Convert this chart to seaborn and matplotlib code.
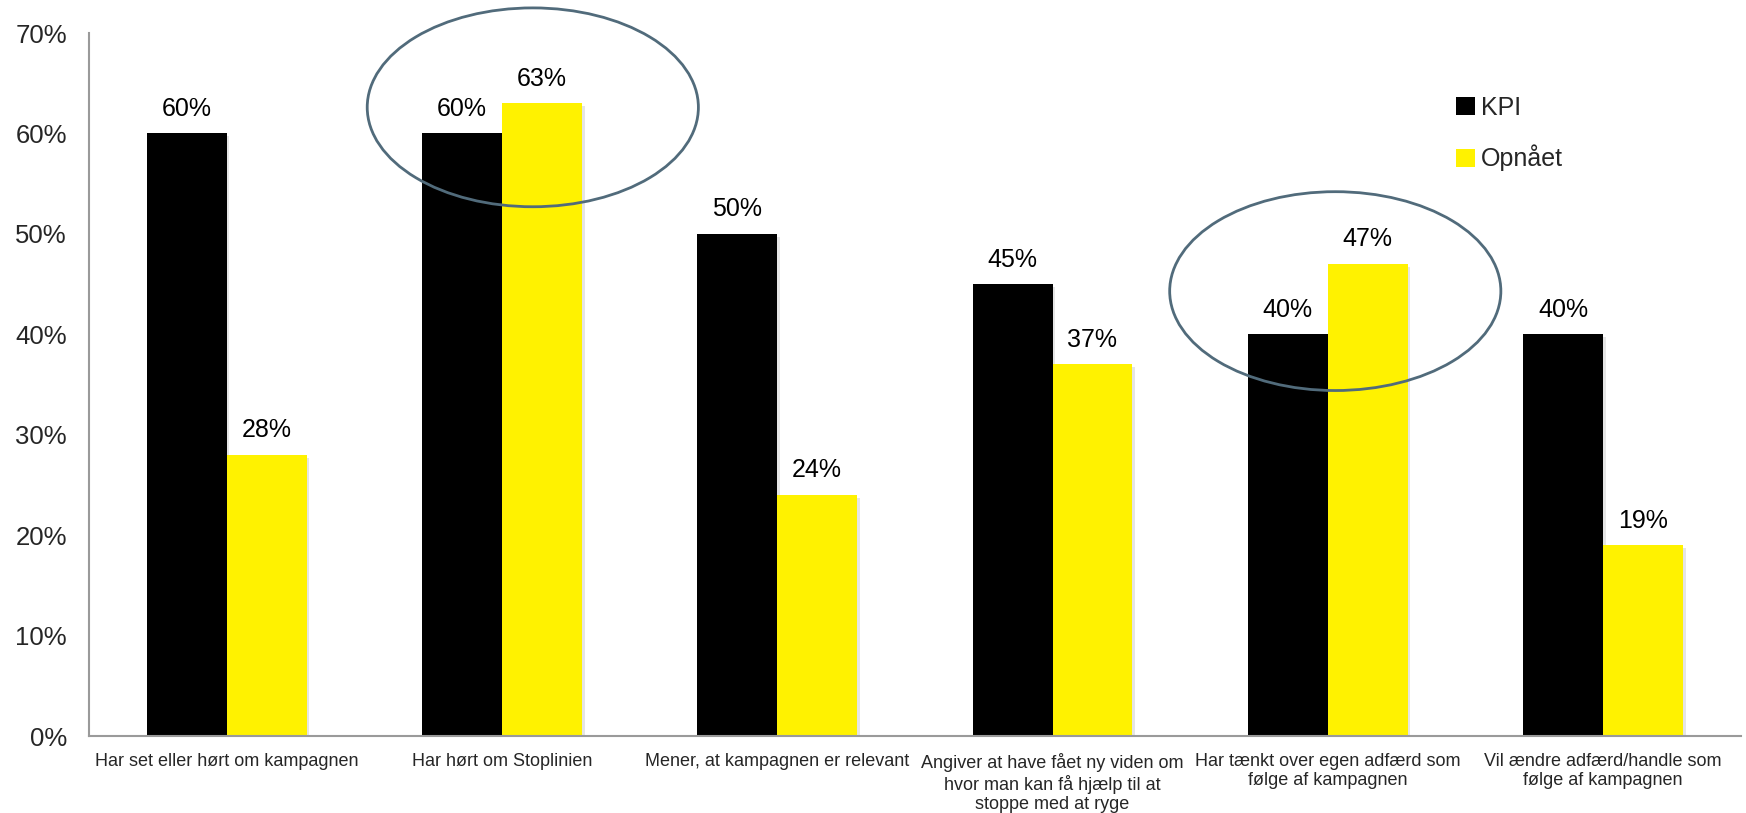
import matplotlib
matplotlib.use("Agg")
import matplotlib.pyplot as plt
import matplotlib.patheffects as pe
from matplotlib.patches import Ellipse
import seaborn as sns
import pandas as pd

categories = [
    "Har set eller hørt om kampagnen",
    "Har hørt om Stoplinien",
    "Mener, at kampagnen er relevant",
    "Angiver at have fået ny viden om\nhvor man kan få hjælp til at\nstoppe med at ryge",
    "Har tænkt over egen adfærd som\nfølge af kampagnen",
    "Vil ændre adfærd/handle som\nfølge af kampagnen",
]
kpi = [60, 60, 50, 45, 40, 40]
opnaaet = [28, 63, 24, 37, 47, 19]
series = ["KPI", "Opnået"]
colors = {"KPI": "#000000", "Opnået": "#FFF200"}
y_ticks = [0, 10, 20, 30, 40, 50, 60, 70]

df = pd.DataFrame({
    "Kategori": categories * 2,
    "Serie": [series[0]] * len(categories) + [series[1]] * len(categories),
    "Andel": kpi + opnaaet,
})

sns.set_theme(style="white")
plt.rcParams["font.family"] = ["Liberation Sans", "DejaVu Sans"]

fig = plt.figure(figsize=(17.46, 8.13), dpi=100)
ax = fig.add_axes([0.051, 0.0947, 0.946, 0.8647])

sns.barplot(data=df, x="Kategori", y="Andel", hue="Serie", order=categories,
            hue_order=series, palette=colors, width=0.58, gap=0,
            saturation=1, linewidth=0, ax=ax)

shadow = [pe.SimplePatchShadow(offset=(2, -2), shadow_rgbFace="#999999", alpha=0.25),
          pe.Normal()]
for cont in ax.containers:
    for bar in cont:
        bar.set_path_effects(shadow)
    ax.bar_label(cont, labels=[f"{v:.0f}%" for v in cont.datavalues],
                 padding=9, fontsize=18, color="black")

ax.set_xlim(-0.5, len(categories) - 0.5)
ax.set_ylim(0, 70)
ax.set_yticks(y_ticks)
ax.set_yticklabels([f"{t}%" for t in y_ticks], fontsize=18.5)
ax.tick_params(axis="y", length=0, pad=16)
ax.tick_params(axis="x", length=0, pad=12, labelsize=13)
for lbl in ax.get_xticklabels():
    lbl.set_multialignment("center")
ax.set_xlabel("")
ax.set_ylabel("")

for side in ["top", "right"]:
    ax.spines[side].set_visible(False)
for side in ["left", "bottom"]:
    ax.spines[side].set_color("#9a9a9a")
    ax.spines[side].set_linewidth(1.5)

# highlight the categories where the target was reached
for cx, cy in [(1.112, 62.6), (4.027, 44.3)]:
    ax.add_patch(Ellipse((cx, cy), width=1.203, height=19.8, fill=False,
                         edgecolor="#516b7b", linewidth=2, clip_on=False, zorder=5))

leg = ax.legend(loc="upper left", bbox_to_anchor=(0.8215, 0.925), frameon=False,
                fontsize=18, handlelength=0.75, handleheight=0.75,
                handletextpad=0.25, labelspacing=1.0, borderaxespad=0)

fig.savefig("out.png", dpi=100)
